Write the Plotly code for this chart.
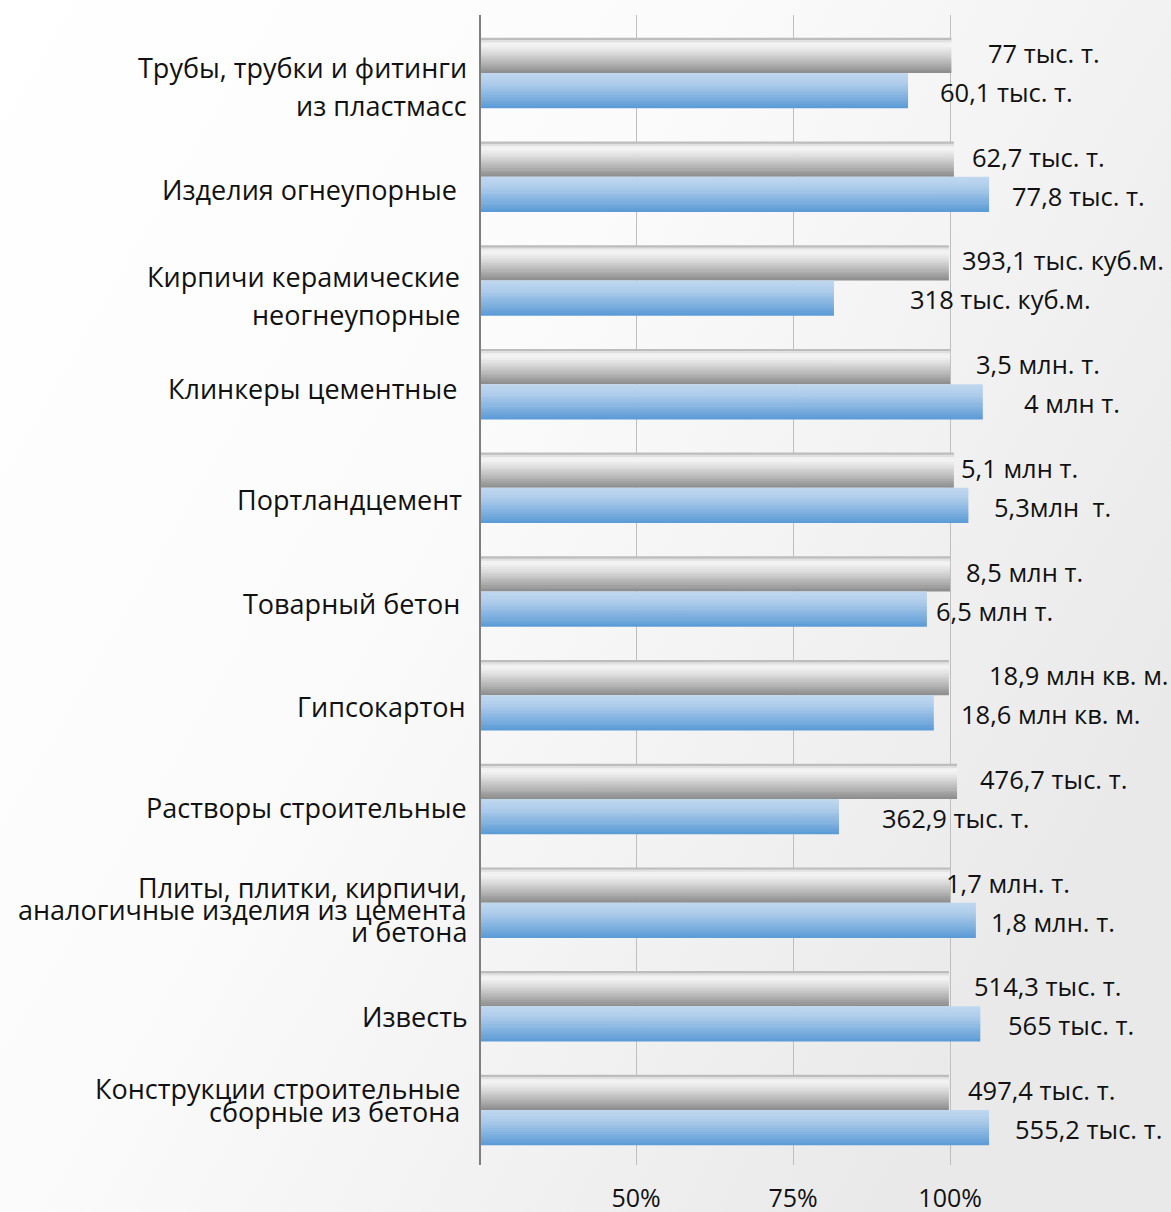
import base64
import plotly.graph_objects as go

# ---------------- data ----------------
categories = [
    "Трубы, трубки и фитинги<br>из пластмасс",
    "Изделия огнеупорные",
    "Кирпичи керамические<br>неогнеупорные",
    "Клинкеры цементные",
    "Портландцемент",
    "Товарный бетон",
    "Гипсокартон",
    "Растворы строительные",
    "Плиты, плитки, кирпичи,<br>аналогичные изделия из цемента<br>и бетона",
    "Известь",
    "Конструкции строительные<br>сборные из бетона",
]
prev_pct = [100.2, 100.6, 99.8, 100.0, 100.6, 100.0, 99.8, 101.1, 100.0, 99.8, 99.8]
curr_pct = [93.3, 106.2, 81.5, 105.2, 102.9, 96.3, 97.4, 82.3, 104.1, 104.8, 106.2]
prev_labels = ["77 тыс. т.", "62,7 тыс. т.", "393,1 тыс. куб.м.", "3,5 млн. т.", "5,1 млн т.",
               "8,5 млн т.", "18,9 млн кв. м.", "476,7 тыс. т.", "1,7 млн. т.", "514,3 тыс. т.",
               "497,4 тыс. т."]
curr_labels = ["60,1 тыс. т.", "77,8 тыс. т.", "318 тыс. куб.м.", "4 млн т.", "5,3млн\u00a0 т.",
               "6,5 млн т.", "18,6 млн кв. м.", "362,9 тыс. т.", "1,8 млн. т.", "565 тыс. т.",
               "555,2 тыс. т."]
tick_vals = [50, 75, 100]
tick_text = ["50%", "75%", "100%"]

# ---------------- layout / style ----------------
W, H = 1171, 1212
ML, MR, MT, MB = 481, 0, 15, 47
PX_PER_PCT = 6.28
X0 = 25.3
X1 = X0 + (W - ML - MR) / PX_PER_PCT
Y_TOP, Y_BOT = -0.56, 10.53

# label x positions (in % units, left edge) for the value labels
prev_label_x = [105.7, 103.2, 101.6, 103.8, 101.4, 102.2, 105.9, 104.5, 99.0, 103.5, 102.5]
curr_label_x = [98.1, 109.6, 93.3, 111.5, 106.7, 97.5, 101.4, 88.9, 106.2, 108.9, 110.0]
# category label layout: right edge (px), line spacing (px), vertical offset (px, down)
cat_right_px = [469, 459, 462, 459, 464, 462, 468, 469, 469, 470, 462]
cat_line_px = [38, 0, 38, 0, 0, 0, 0, 0, 22, 0, 23]
cat_dy_px = [13, 13, 15, 4, 12, 12, 11, 9, 7, 10, -10]

FONT = "Open Sans, Roboto, DejaVu Sans, sans-serif"
CAT_SIZE = 27
VAL_SIZE = 25.5
TICK_SIZE = 25
TXT = "#111111"
BAR_W = 0.34
N_SLICES = 16

gray_stops = [(0.0, (166, 166, 166)), (0.07, (217, 217, 217)), (0.18, (248, 248, 248)),
              (0.42, (220, 220, 220)), (0.72, (180, 180, 180)), (1.0, (138, 138, 138))]
blue_stops = [(0.0, (192, 216, 239)), (0.3, (174, 204, 234)), (1.0, (90, 154, 214))]


def interp(stops, t):
    for (t0, c0), (t1, c1) in zip(stops[:-1], stops[1:]):
        if t0 <= t <= t1:
            f = (t - t0) / (t1 - t0) if t1 > t0 else 0
            return "rgb(%d,%d,%d)" % tuple(round(a + (b - a) * f) for a, b in zip(c0, c1))
    return "rgb(%d,%d,%d)" % stops[-1][1]


fig = go.Figure()

# bars drawn as horizontal slices to mimic the gradient fill
def add_series(values, stops, start_offset, name):
    w = BAR_W / N_SLICES
    for k in range(N_SLICES):
        t = (k + 0.5) / N_SLICES
        fig.add_trace(go.Bar(
            y=categories, x=values, orientation="h",
            width=w * 1.3 if k < N_SLICES - 1 else w,
            offset=start_offset + k * w,
            marker=dict(color=interp(stops, t), line=dict(width=0)),
            name=name, showlegend=False, hoverinfo="skip",
        ))

add_series(prev_pct, gray_stops, -BAR_W, "prev")
add_series(curr_pct, blue_stops, 0.0, "curr")

annotations = []
for i, c in enumerate(categories):
    annotations.append(dict(x=prev_label_x[i], y=c, xref="x", yref="y", text=prev_labels[i],
                            showarrow=False, xanchor="left", yanchor="middle", yshift=20,
                            font=dict(family=FONT, size=VAL_SIZE, color=TXT)))
    annotations.append(dict(x=curr_label_x[i], y=c, xref="x", yref="y", text=curr_labels[i],
                            showarrow=False, xanchor="left", yanchor="middle", yshift=-19,
                            font=dict(family=FONT, size=VAL_SIZE, color=TXT)))
    lines = c.split("<br>")
    n = len(lines)
    for j, ln in enumerate(lines):
        ys = -cat_dy_px[i] + ((n - 1) / 2 - j) * cat_line_px[i]
        annotations.append(dict(x=(cat_right_px[i] - ML) / (W - ML - MR), y=c, xref="paper", yref="y",
                                text=ln, showarrow=False, xanchor="right", yanchor="middle",
                                yshift=ys, font=dict(family=FONT, size=CAT_SIZE, color=TXT)))

svg = ('<svg xmlns="http://www.w3.org/2000/svg" width="1171" height="1212">'
       '<defs><linearGradient id="g" x1="0" y1="0" x2="1" y2="0.6">'
       '<stop offset="0" stop-color="#ffffff"/><stop offset="0.45" stop-color="#fbfbfb"/>'
       '<stop offset="1" stop-color="#e9e9e9"/></linearGradient></defs>'
       '<rect width="1171" height="1212" fill="url(#g)"/></svg>')
bg_uri = "data:image/svg+xml;base64," + base64.b64encode(svg.encode()).decode()
pw, ph = W - ML - MR, H - MT - MB

fig.update_layout(
    width=W, height=H,
    margin=dict(l=ML, r=MR, t=MT, b=MB, autoexpand=False),
    barmode="overlay",
    paper_bgcolor="#ffffff",
    plot_bgcolor="rgba(0,0,0,0)",
    font=dict(family=FONT, size=VAL_SIZE, color=TXT),
    annotations=annotations,
    images=[dict(source=bg_uri, xref="paper", yref="paper", x=-ML / pw, y=1 + MT / ph,
                 sizex=W / pw, sizey=H / ph, sizing="stretch", layer="below",
                 xanchor="left", yanchor="top")],
    xaxis=dict(range=[X0, X1], tickvals=tick_vals, ticktext=tick_text, showgrid=True,
               gridcolor="#bfbfbf", gridwidth=1, zeroline=False, showline=False,
               ticks="outside", ticklen=11, tickcolor="rgba(0,0,0,0)",
               tickfont=dict(family=FONT, size=TICK_SIZE, color=TXT), automargin=False),
    yaxis=dict(type="category", categoryorder="array", categoryarray=categories,
               range=[Y_BOT, Y_TOP], showticklabels=False, showgrid=False, zeroline=False,
               showline=True, linecolor="#7f7f7f", linewidth=2, ticks="", automargin=False),
)

fig.write_html(
    "out.html",
    config={"displayModeBar": False},
    post_script="document.body.style.margin='0';document.body.style.overflow='hidden';",
)
